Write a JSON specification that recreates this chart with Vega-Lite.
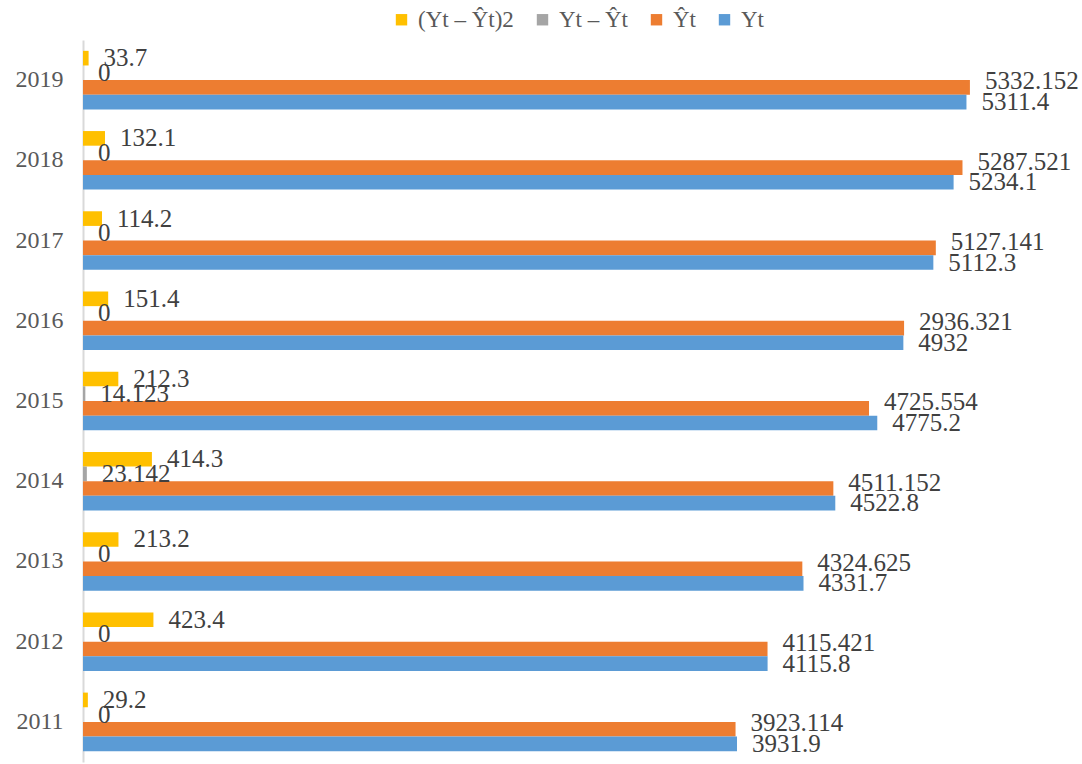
{
  "$schema": "https://vega.github.io/schema/vega-lite/v6.json",
  "width": 998,
  "height": 722,
  "autosize": "none",
  "padding": {"left": 83, "top": 40, "right": 1, "bottom": 2},
  "background": "white",
  "config": {
    "view": {"stroke": null},
    "font": "Liberation Serif",
    "text": {"font": "Liberation Serif"}
  },
  "data": {
    "values": [
      {"year": "2019", "series": "(Yt – Ŷt)2", "value": 33.7, "label": "33.7"},
      {"year": "2019", "series": "Yt – Ŷt", "value": 0, "label": "0"},
      {"year": "2019", "series": "Ŷt", "value": 5332.152, "label": "5332.152"},
      {"year": "2019", "series": "Yt", "value": 5311.4, "label": "5311.4"},
      {"year": "2018", "series": "(Yt – Ŷt)2", "value": 132.1, "label": "132.1"},
      {"year": "2018", "series": "Yt – Ŷt", "value": 0, "label": "0"},
      {"year": "2018", "series": "Ŷt", "value": 5287.521, "label": "5287.521"},
      {"year": "2018", "series": "Yt", "value": 5234.1, "label": "5234.1"},
      {"year": "2017", "series": "(Yt – Ŷt)2", "value": 114.2, "label": "114.2"},
      {"year": "2017", "series": "Yt – Ŷt", "value": 0, "label": "0"},
      {"year": "2017", "series": "Ŷt", "value": 5127.141, "label": "5127.141"},
      {"year": "2017", "series": "Yt", "value": 5112.3, "label": "5112.3"},
      {"year": "2016", "series": "(Yt – Ŷt)2", "value": 151.4, "label": "151.4"},
      {"year": "2016", "series": "Yt – Ŷt", "value": 0, "label": "0"},
      {"year": "2016", "series": "Ŷt", "value": 4936.321, "label": "2936.321"},
      {"year": "2016", "series": "Yt", "value": 4932, "label": "4932"},
      {"year": "2015", "series": "(Yt – Ŷt)2", "value": 212.3, "label": "212.3"},
      {"year": "2015", "series": "Yt – Ŷt", "value": 14.123, "label": "14.123"},
      {"year": "2015", "series": "Ŷt", "value": 4725.554, "label": "4725.554"},
      {"year": "2015", "series": "Yt", "value": 4775.2, "label": "4775.2"},
      {"year": "2014", "series": "(Yt – Ŷt)2", "value": 414.3, "label": "414.3"},
      {"year": "2014", "series": "Yt – Ŷt", "value": 23.142, "label": "23.142"},
      {"year": "2014", "series": "Ŷt", "value": 4511.152, "label": "4511.152"},
      {"year": "2014", "series": "Yt", "value": 4522.8, "label": "4522.8"},
      {"year": "2013", "series": "(Yt – Ŷt)2", "value": 213.2, "label": "213.2"},
      {"year": "2013", "series": "Yt – Ŷt", "value": 0, "label": "0"},
      {"year": "2013", "series": "Ŷt", "value": 4324.625, "label": "4324.625"},
      {"year": "2013", "series": "Yt", "value": 4331.7, "label": "4331.7"},
      {"year": "2012", "series": "(Yt – Ŷt)2", "value": 423.4, "label": "423.4"},
      {"year": "2012", "series": "Yt – Ŷt", "value": 0, "label": "0"},
      {"year": "2012", "series": "Ŷt", "value": 4115.421, "label": "4115.421"},
      {"year": "2012", "series": "Yt", "value": 4115.8, "label": "4115.8"},
      {"year": "2011", "series": "(Yt – Ŷt)2", "value": 29.2, "label": "29.2"},
      {"year": "2011", "series": "Yt – Ŷt", "value": 0, "label": "0"},
      {"year": "2011", "series": "Ŷt", "value": 3923.114, "label": "3923.114"},
      {"year": "2011", "series": "Yt", "value": 3931.9, "label": "3931.9"}
    ]
  },
  "encoding": {
    "y": {
      "field": "year", "type": "ordinal", "sort": "descending",
      "scale": {"paddingInner": 0.27, "paddingOuter": 0.135},
      "axis": {
        "title": null, "ticks": false, "domainColor": "#D9D9D9", "domainWidth": 2,
        "labelFont": "Liberation Serif", "labelFontSize": 24, "labelColor": "#595959",
        "labelPadding": 20, "grid": false
      }
    },
    "yOffset": {
      "field": "series", "type": "nominal",
      "sort": ["(Yt – Ŷt)2", "Yt – Ŷt", "Ŷt", "Yt"],
      "scale": {"domain": ["(Yt – Ŷt)2", "Yt – Ŷt", "Ŷt", "Yt"], "paddingInner": 0, "paddingOuter": 0}
    },
    "x": {
      "field": "value", "type": "quantitative",
      "scale": {"domain": [0, 6000], "nice": false},
      "axis": null
    }
  },
  "layer": [
    {
      "mark": {"type": "bar"},
      "encoding": {
        "color": {
          "field": "series", "type": "nominal",
          "scale": {
            "domain": ["(Yt – Ŷt)2", "Yt – Ŷt", "Ŷt", "Yt"],
            "range": ["#FFC000", "#A5A5A5", "#ED7D31", "#5B9BD5"]
          },
          "legend": {
            "title": null, "orient": "none", "direction": "horizontal",
            "legendX": 307, "legendY": -32,
            "symbolType": "square", "symbolSize": 130, "symbolStrokeWidth": 0,
            "labelFont": "Liberation Serif", "labelFontSize": 23, "labelColor": "#595959",
            "columnPadding": 17, "labelOffset": 5
          }
        }
      }
    },
    {
      "transform": [{"filter": "datum.series !== 'Ŷt'"}],
      "mark": {"type": "text", "align": "left", "baseline": "middle", "dx": 15, "fontSize": 25, "color": "#404040", "font": "Liberation Serif"},
      "encoding": {"text": {"field": "label", "type": "nominal"}}
    },
    {
      "transform": [{"filter": "datum.series === 'Ŷt'"}],
      "mark": {"type": "text", "align": "left", "baseline": "middle", "dx": 15, "dy": -6, "fontSize": 25, "color": "#404040", "font": "Liberation Serif"},
      "encoding": {"text": {"field": "label", "type": "nominal"}}
    }
  ]
}
